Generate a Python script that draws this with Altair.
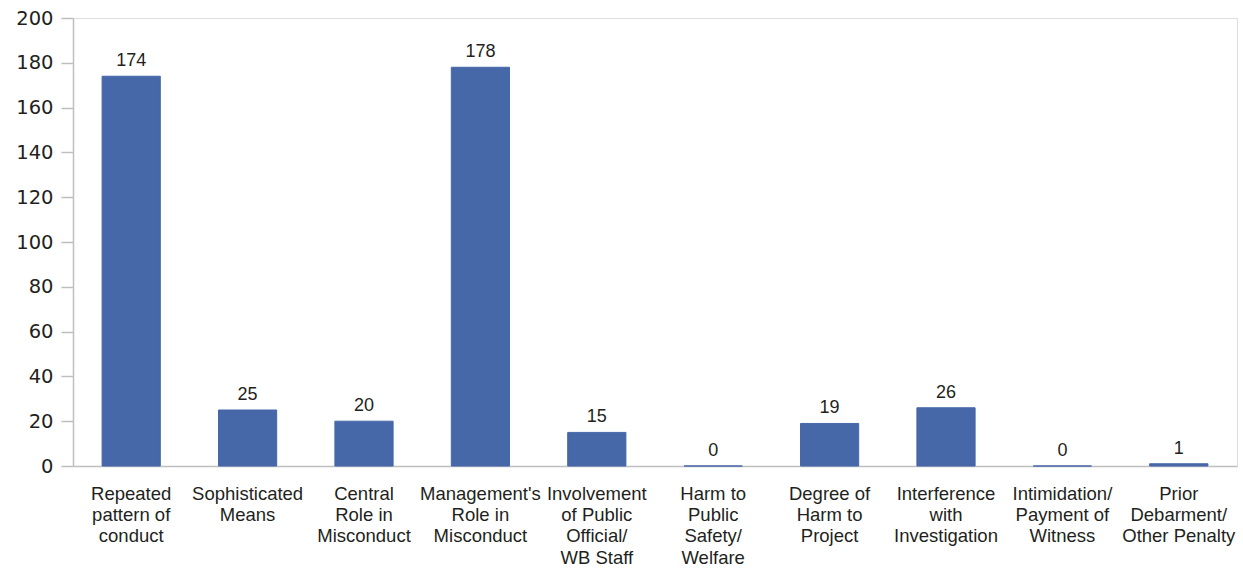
import altair as alt
import pandas as pd

categories = [
    "Repeated|pattern of|conduct",
    "Sophisticated|Means",
    "Central|Role in|Misconduct",
    "Management's|Role in|Misconduct",
    "Involvement|of Public|Official/|WB Staff",
    "Harm to|Public|Safety/|Welfare",
    "Degree of|Harm to|Project",
    "Interference|with|Investigation",
    "Intimidation/|Payment of|Witness",
    "Prior|Debarment/|Other Penalty",
]
values = [174, 25, 20, 178, 15, 0, 19, 26, 0, 1]

df = pd.DataFrame({"cat": categories, "val": values})

FONT = "Liberation Sans"
BAR = "#4667A8"
AXIS = "#BFBFBF"
TXT = "#231F20"

x = alt.X("cat:N", sort=categories,
          scale=alt.Scale(paddingInner=0.5, paddingOuter=0.25),
          axis=alt.Axis(title=None, labelAngle=0, ticks=False,
                        labelExpr="split(datum.label, '|')",
                        labelFontSize=18.5, labelFont=FONT, labelColor=TXT,
                        labelLineHeight=21.4, labelPadding=18,
                        domainColor=AXIS, domainWidth=1.5, labelLimit=200))
y = alt.Y("val:Q", scale=alt.Scale(domain=[0, 200], nice=False),
          axis=alt.Axis(title=None, values=list(range(0, 201, 20)), grid=False,
                        tickSize=12, tickColor=AXIS, tickWidth=1.5,
                        domainColor=AXIS, domainWidth=1.5,
                        labelFontSize=19.5, labelFont="DejaVu Sans", labelColor=TXT,
                        labelPadding=8))

bars = alt.Chart(df).mark_bar(color=BAR, stroke=BAR, strokeWidth=1).encode(x=x, y=y)
labels = alt.Chart(df).mark_text(baseline="alphabetic", dy=-10, fontSize=18, font=FONT, color=TXT).encode(
    x=alt.X("cat:N", sort=categories), y="val:Q", text="val:Q")

chart = alt.layer(bars, labels).properties(
    width=1164, height=448,
    padding={"left": 73, "top": 18, "right": 6, "bottom": 103},
    autosize=alt.AutoSizeParams(type="none"),
).configure_view(stroke=None).configure(background="white")

chart.save("out.html", embed_options={"renderer": "svg", "actions": False})
